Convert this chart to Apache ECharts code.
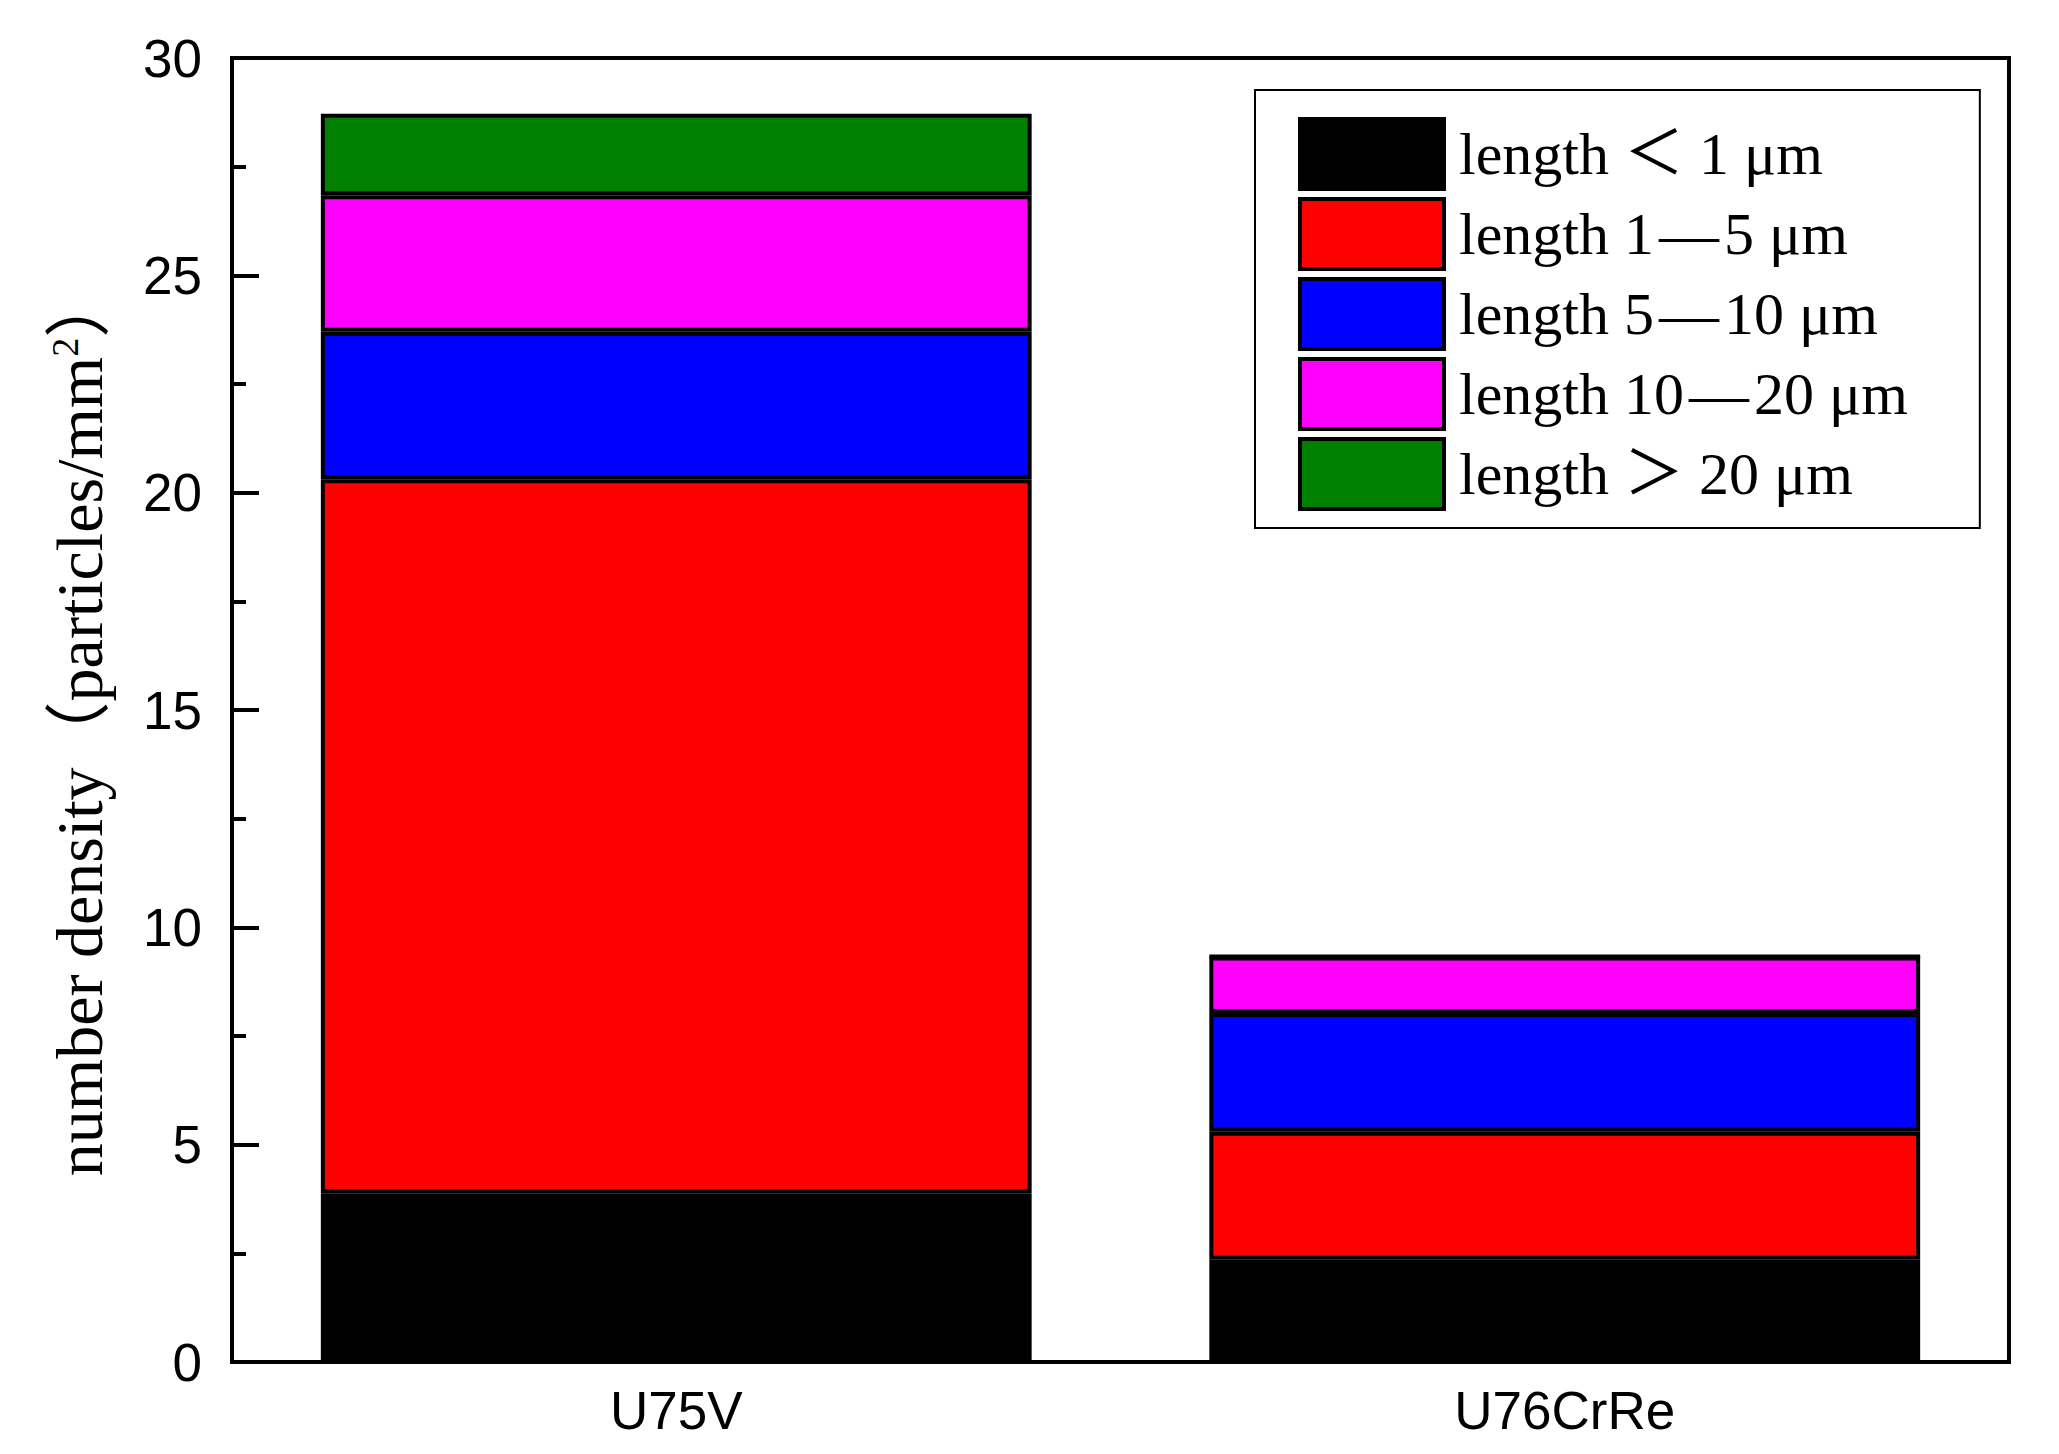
<!DOCTYPE html>
<html>
<head>
<meta charset="utf-8">
<style>
    html, body { margin: 0; padding: 0; background: #fff; }
    #chart { width: 2059px; height: 1454px; }
</style>
</head>
<body>
<div id="chart"></div>
<script src="https://cdn.jsdelivr.net/npm/echarts@6/dist/echarts.min.js"></script>
<script>
    // values (particles/mm2)
    var steels = ['U75V', 'U76CrRe'];
    var sizeClasses = ['length ＜ 1 μm', 'length 1\u200a—\u200a5 μm', 'length 5\u200a—\u200a10 μm',
        'length 10\u200a—\u200a20 μm', 'length ＞ 20 μm'];
    var below1 = [3.88, 2.35];
    var from1to5 = [16.43, 2.95];
    var from5to10 = [3.39, 2.73];
    var from10to20 = [3.14, 1.30];
    var above20 = [1.88, 0];
    var colors = ['#000000', '#ff0000', '#0000ff', '#ff00ff', '#008000'];
    var yTicks = [0, 5, 10, 15, 20, 25, 30];

    var serif = "'Liberation Serif', 'Times New Roman', 'Noto Sans CJK SC', serif";
    var sans = "'Liberation Sans', Arial, sans-serif";

    var chart = echarts.init(document.getElementById('chart'), null, {renderer: 'svg'});

    var seriesData = [below1, from1to5, from5to10, from10to20, above20];
    var series = [];
    for (var i = 0; i < seriesData.length; i++) {
        series.push({
            name: sizeClasses[i],
            type: 'bar',
            stack: 'total',
            barCategoryGap: '20%',
            data: seriesData[i],
            itemStyle: {color: colors[i], borderColor: '#000', borderWidth: 4},
            emphasis: {disabled: true}
        });
    }

    var option = {
        animation: false,
        grid: {
            left: 232, top: 58, right: 50, bottom: 92,
            show: true, borderColor: '#000', borderWidth: 4
        },
        legend: {
            orient: 'vertical',
            left: 1255, top: 90,
            data: sizeClasses,
            icon: 'rect',
            itemWidth: 144, itemHeight: 70, itemGap: 6,
            padding: [27, 72, 17, 43],
            borderColor: '#000', borderWidth: 2,
            selectedMode: false,
            itemStyle: {borderColor: '#000', borderWidth: 4},
            textStyle: {fontFamily: serif, fontSize: 60, lineHeight: 70, color: '#000', padding: [0, 0, 0, 10]}
        },
        xAxis: {
            type: 'category',
            data: steels,
            axisLine: {lineStyle: {color: '#000', width: 4}},
            axisTick: {show: false},
            axisLabel: {fontFamily: sans, fontSize: 53, color: '#000', margin: 22}
        },
        yAxis: {
            type: 'value',
            min: yTicks[0], max: yTicks[yTicks.length - 1], interval: 5,
            name: 'number density（particles/mm{sup|2}）',
            nameLocation: 'middle',
            nameGap: 120,
            nameTextStyle: {
                fontFamily: serif, fontSize: 66, color: '#000',
                padding: [0, 28, 0, 0],
                rich: {sup: {fontFamily: serif, fontSize: 38, color: '#000', verticalAlign: 'top'}}
            },
            axisLine: {show: true, lineStyle: {color: '#000', width: 4}},
            axisTick: {show: true, inside: true, length: 27, lineStyle: {color: '#000', width: 4}},
            minorTick: {show: true, splitNumber: 2, length: 14, lineStyle: {color: '#000', width: 4}},
            splitLine: {show: false},
            axisLabel: {fontFamily: sans, fontSize: 53, color: '#000', margin: 30}
        },
        series: series
    };
    chart.setOption(option);
</script>
</body>
</html>
